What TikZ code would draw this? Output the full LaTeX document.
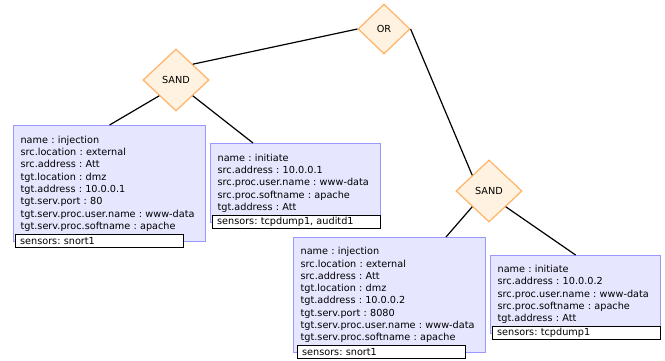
\documentclass[tikz,border=0pt]{standalone}
\usepackage{fontspec}
\setmainfont{DejaVu Sans}
\usetikzlibrary{positioning,shapes.geometric}
\definecolor{gatefill}{HTML}{FFF2E0}
\definecolor{gateline}{HTML}{FFB366}
\definecolor{leaffill}{HTML}{E6E6FF}
\definecolor{leafline}{HTML}{9999FF}
\frenchspacing

\begin{document}
\begin{tikzpicture}[x=1pt,y=-1pt,
	gate/.style={diamond, draw=gateline, fill=gatefill, line width=1.2pt, inner sep=0pt, minimum width=66pt, minimum height=62pt, font=\fontsize{9.7}{11}\selectfont},
	leaf/.style={rectangle, draw=leafline, fill=leaffill, line width=1.2pt, anchor=north west, align=left, inner xsep=7pt, inner ysep=2pt, font=\fontsize{9.7}{12.3}\selectfont},
	sensorbox/.style={rectangle, draw=black, fill=white, line width=1.2pt, minimum width=168pt, minimum height=13pt, text width=159pt, align=left, inner xsep=4.5pt, inner ysep=0pt, font=\fontsize{9.7}{11}\selectfont},
	link/.style={line width=1.2pt}]
	\useasboundingbox (0,0) rectangle (665,360);

	% gates
	\node (or) [gate, minimum width=52pt, minimum height=50pt] at (384,29) {OR};
	\node (sandl) [gate] at (176,80) {SAND};
	\node (sandr) [gate] at (489,191) {SAND};

	% first branch
	\node (injl) [leaf, text width=178pt, minimum height=116pt] at (13,125) {name : injection\\src.location : external\\src.address : Att\\tgt.location : dmz\\tgt.address : 10.0.0.1\\tgt.serv.port : 80\\tgt.serv.proc.user.name : www-data\\tgt.serv.proc.softname : apache};
	\node (injlsens) [sensorbox, below right=-8pt and 2pt of injl.south west] {sensors: snort1};

	\node (initl) [leaf, text width=156pt, minimum height=79pt] at (210,143) {name : initiate\\src.address : 10.0.0.1\\src.proc.user.name : www-data\\src.proc.softname : apache\\tgt.address : Att};
	\node (initlsens) [sensorbox, below right=-8pt and 2pt of initl.south west] {sensors: tcpdump1, auditd1};

	% second branch
	\node (injr) [leaf, text width=178pt, minimum height=115pt] at (293,237) {name : injection\\src.location : external\\src.address : Att\\tgt.location : dmz\\tgt.address : 10.0.0.2\\tgt.serv.port : 8080\\tgt.serv.proc.user.name : www-data\\tgt.serv.proc.softname : apache};
	\node (injrsens) [sensorbox, below right=-8pt and 4pt of injr.south west] {sensors: snort1};

	\node (initr) [leaf, text width=156pt, minimum height=78pt] at (490,255) {name : initiate\\src.address : 10.0.0.2\\src.proc.user.name : www-data\\src.proc.softname : apache\\tgt.address : Att};
	\node (initrsens) [sensorbox, below right=-8pt and 2pt of initr.south west] {sensors: tcpdump1};

	% connecting the gates and the leaves
	\draw[link] (sandl.north east) -- (or.west);
	\draw[link] (or.east) -- (sandr.north west);
	\draw[link] (sandl.south west) -- (injl.north);
	\draw[link] (sandl.south east) -- ([xshift=43pt]initl.north west);
	\draw[link] (sandr.south west) -- ([xshift=153pt]injr.north west);
	\draw[link] (sandr.south east) -- (initr.north);
\end{tikzpicture}
\end{document}
